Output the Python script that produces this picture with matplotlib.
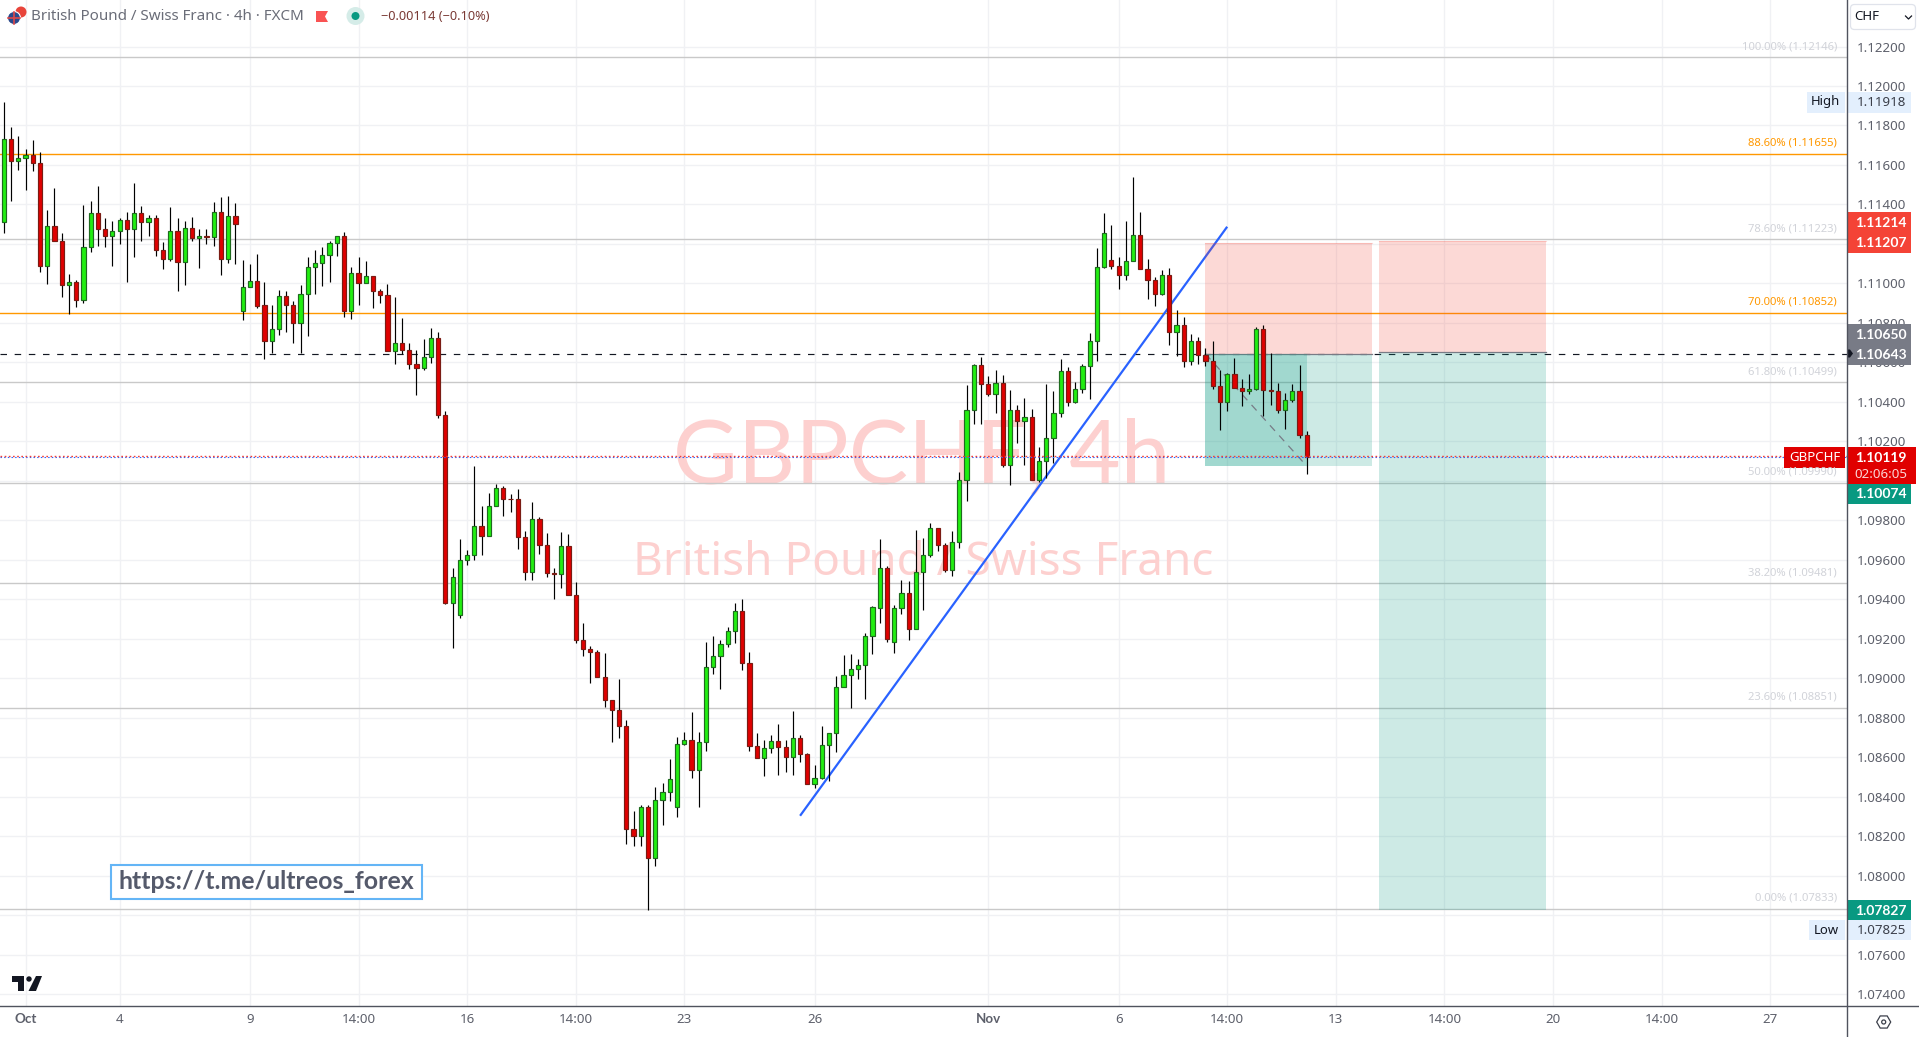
import numpy as np
import matplotlib
matplotlib.use("Agg")
import matplotlib.pyplot as plt
from matplotlib.patches import Rectangle, Circle, Polygon, RegularPolygon, FancyBboxPatch

plt.rcParams['font.family'] = ['Noto Sans', 'DejaVu Sans']

# GBPCHF 4h candles, prices in points (1e-5)
opens = [
    111309,111730,111619,111634,111649,111608,111087,111289,111213,110990,
    111005,110914,111183,111355,111274,111239,111264,111320,111274,111355,
    111309,111330,111168,111122,111264,111107,111279,111228,111239,111233,
    111360,111122,111340,110859,110980,111011,110889,110706,110767,110935,
    110889,110798,110945,111081,111102,111142,111203,111239,110859,111051,
    111000,111036,110960,110940,110656,110696,110660,110594,110569,110625,
    110721,110334,109383,109318,109601,109622,109769,109718,109870,109961,
    109910,109910,109713,109540,109804,109677,109535,109530,109672,109419,
    109192,109146,109131,109004,108888,108837,108756,108234,108199,108346,
    108087,108381,108422,108346,108665,108685,108533,108675,109055,109111,
    109172,109238,109339,109075,108655,108594,108645,108680,108650,108599,
    108695,108614,108462,108493,108660,108721,108954,109015,109045,109065,
    109212,109358,109556,109181,109358,109429,109247,109536,109622,109759,
    109673,109546,109688,110002,110357,110585,110488,110438,110493,110078,
    110357,110301,110321,110002,110098,110215,110341,110554,110397,110463,
    110580,110706,111081,111117,111086,111041,111112,111243,111071,111015,
    110944,111041,110752,110787,110605,110706,110635,110605,110478,110397,
    110539,110468,110453,110463,110767,110458,110453,110357,110407,110453,110230]
highs = [
    111918,111791,111745,111679,111725,111664,111370,111482,111254,111046,
    111016,111396,111416,111492,111330,111315,111330,111360,111507,111391,
    111345,111345,111208,111385,111330,111315,111335,111274,111274,111411,
    111436,111441,111406,111117,111097,111147,111005,110889,110965,110960,
    110909,110990,111132,111168,111183,111213,111239,111259,111081,111132,
    111112,111036,110970,110995,110929,110823,110696,110665,110716,110772,
    110752,110356,109556,109703,109647,110073,109870,109936,109986,109976,
    109931,109956,109748,109890,109819,109733,109556,109738,109728,109485,
    109278,109162,109141,109126,108888,108994,108787,108326,108356,108356,
    108447,108467,108589,108700,108726,108827,108726,109182,109212,109192,
    109258,109379,109400,109131,108721,108685,108711,108766,108685,108832,
    108711,108619,108559,108756,108721,109010,109116,109121,109096,109227,
    109364,109703,109566,109369,109495,109490,109749,109708,109784,109759,
    109683,109744,110042,110483,110590,110625,110529,110559,110534,110458,
    110382,110417,110362,110169,110488,110453,110615,110575,110498,110590,
    110747,111177,111355,111294,111132,111314,111537,111360,111122,111030,
    111066,111076,110863,110828,110742,110726,110671,110706,110559,110544,
    110620,110514,110539,110777,110787,110645,110493,110443,110488,110585,110250]
lows = [
    111257,111419,111576,111475,111571,111060,110999,111213,110933,110847,
    110882,110902,111161,111191,111186,111090,111201,111009,111136,111217,
    111242,111141,111075,111115,110963,110994,111217,111080,111201,111191,
    111044,111105,111100,110816,110980,110877,110619,110646,110740,110755,
    110700,110646,110735,110948,110989,111009,111141,110831,110821,110892,
    111000,110877,110902,110656,110593,110641,110567,110436,110559,110598,
    110319,109377,109154,109306,109574,109600,109625,109718,109870,109823,
    109843,109655,109498,109498,109630,109513,109402,109458,109419,109180,
    109114,108977,109004,108854,108679,108699,108162,108152,108152,107825,
    108050,108258,108380,108298,108660,108496,108349,108633,109023,108944,
    109156,109177,109043,108630,108594,108506,108619,108511,108527,108511,
    108574,108462,108445,108488,108478,108628,108954,108851,108998,108893,
    109124,109281,109181,109130,109326,109191,109247,109343,109612,109642,
    109536,109516,109662,109896,110286,110286,110428,110345,110068,109977,
    110193,110078,110002,109992,110012,110088,110321,110377,110392,110443,
    110412,110607,111076,111071,110973,111015,111112,111071,110922,110887,
    110939,110686,110630,110574,110585,110590,110580,110463,110255,110351,
    110468,110380,110438,110458,110326,110385,110341,110260,110397,110215,110032]
closes = [
    111730,111619,111634,111649,111608,111087,111289,111213,110990,111005,
    110914,111183,111355,111274,111239,111264,111320,111274,111355,111309,
    111330,111168,111122,111264,111107,111279,111228,111239,111233,111360,
    111122,111340,111299,110980,111011,110887,110706,110767,110935,110889,
    110798,110945,111081,111102,111142,111203,111239,110859,111051,111000,
    111036,110960,110940,110656,110696,110661,110594,110569,110625,110721,
    110334,109383,109515,109601,109622,109769,109718,109870,109961,109910,
    109907,109713,109540,109804,109677,109535,109530,109672,109419,109191,
    109146,109131,109004,108888,108837,108756,108234,108199,108346,108087,
    108381,108422,108488,108665,108685,108533,108675,109055,109111,109172,
    109238,109339,109075,108655,108594,108645,108680,108650,108599,108695,
    108614,108462,108493,108660,108721,108954,109015,109045,109065,109212,
    109359,109556,109201,109358,109429,109247,109536,109622,109759,109673,
    109546,109688,110002,110357,110585,110488,110438,110493,110078,110357,
    110301,110321,110002,110098,110215,110341,110554,110397,110463,110580,
    110706,111081,111253,111086,111041,111112,111243,111071,111015,110944,
    111041,110752,110787,110605,110706,110635,110605,110478,110397,110539,
    110468,110453,110463,110767,110458,110453,110357,110407,110453,110230,110119]

price_ticks = [1.074 + 0.002 * k for k in range(25)]
# these tick labels sit fully behind the price tags
hidden_ticks = ['1.07800', '1.10000', '1.11200']
time_tick_bars = [3, 16, 34, 49, 64, 79, 94, 112, 136, 154, 169, 184, 199, 214, 229, 244]
time_tick_labels = ['Oct', '4', '9', '14:00', '16', '14:00', '23', '26', 'Nov', '6', '14:00', '13', '14:00', '20', '14:00', '27']

fib_prices = [1.12146, 1.11655, 1.11223, 1.10852, 1.10499, 1.09990, 1.09481, 1.08851, 1.07833]
fib_labels = ['100.00%', '88.60%', '78.60%', '70.00%', '61.80%', '50.00%', '38.20%', '23.60%', '0.00%']
fib_orange = [False, True, False, True, False, False, False, False, False]

trend_bars = [110, 169]
trend_prices = [1.08303, 1.11287]

pos_bars = [(166, 189), (190, 213)]
pos_entry = [1.10643, 1.10650]
pos_stop = [1.11207, 1.11214]
pos_target = [1.10074, 1.07827]
last_bar = 180
last_price = 1.10119

# pixel layout of the screenshot
W, H = 1919, 1037
AX_R, AX_B = 1846.5, 1005.5
BAR_X0, BAR_STEP = 3.8, 7.239
Y_REF, PX_PER_2 = 46.5, 39.48
BOLD = ['Lato', 'DejaVu Sans']


def py(price):
    return Y_REF + (1.122 - price) / 0.002 * PX_PER_2


def price_at(y):
    return 1.122 - (y - Y_REF) * 0.002 / PX_PER_2


fig = plt.figure(figsize=(W / 100, H / 100), dpi=100, facecolor='white')
ax = fig.add_axes([0, 1 - AX_B / H, AX_R / W, AX_B / H])
ax.set_xlim(-BAR_X0 / BAR_STEP, (AX_R - BAR_X0) / BAR_STEP)
ax.set_ylim(price_at(AX_B), price_at(0))
for s in ax.spines.values():
    s.set_visible(False)

ax.yaxis.tick_right()
ax.set_yticks(price_ticks)
tick_text = ['%.5f' % p for p in price_ticks]
ax.set_yticklabels(['' if t in hidden_ticks else t for t in tick_text], color='#5d606b', fontsize=9.6)
ax.set_xticks(time_tick_bars)
ax.set_xticklabels(time_tick_labels, color='#5d606b', fontsize=9.6)
for lab in ax.get_xticklabels():
    if lab.get_text() in ('Oct', 'Nov'):
        lab.set_fontweight('bold')
        lab.set_family(BOLD)
ax.tick_params(axis='y', length=0, pad=7.4)
ax.tick_params(axis='x', length=0, pad=5.5)
ax.grid(True, color='#f0f1f4', lw=1.0)
ax.set_axisbelow(True)

# watermark
ax.text(0.499, 1 - 459 / AX_B, 'GBPCHF, 4h', transform=ax.transAxes, ha='center', va='center',
        fontsize=64, color='#fdd0cf', zorder=1, family=['Lato', 'DejaVu Sans'])
ax.text(0.4997, 1 - 563 / AX_B, 'British Pound / Swiss Franc', transform=ax.transAxes, ha='center', va='center',
        fontsize=33, color='#fdd0cf', zorder=1)

# fib levels
for p, orange in zip(fib_prices, fib_orange):
    ax.axhline(p, color='#ff9800' if orange else '#c9c9c9', lw=1.0, zorder=2)

ax.axhline(1.10643, color='#131722', lw=0.85, ls=(0, (5.5, 6.5)), zorder=3)

ax.plot(trend_bars, trend_prices, color='#2962ff', lw=1.6, zorder=3, solid_capstyle='butt')

# long/short position boxes
for (b0, b1), entry, stop, target in zip(pos_bars, pos_entry, pos_stop, pos_target):
    ax.add_patch(Rectangle((b0, entry), b1 - b0, stop - entry, fc='#f44336', alpha=0.2, lw=0, zorder=4))
    ax.add_patch(Rectangle((b0, target), b1 - b0, entry - target, fc='#089981', alpha=0.2, lw=0, zorder=4))
    ax.plot([b0, b1], [stop, stop], color='#f44336', alpha=0.2, lw=0.8, zorder=4)
    ax.plot([b0, b1], [entry, entry], color='#787b86', lw=0.9, zorder=4)
b0 = pos_bars[0][0]
ax.add_patch(Rectangle((b0, pos_target[0]), last_bar - b0, pos_entry[0] - pos_target[0],
                       fc='#089981', alpha=0.22, lw=0, zorder=4))
ax.plot([b0, last_bar], [pos_entry[0], pos_target[0]], color='#787b86', lw=0.9, ls=(0, (6, 5)), zorder=4)

# candles
o = np.array(opens) / 1e5
h = np.array(highs) / 1e5
l = np.array(lows) / 1e5
c = np.array(closes) / 1e5
bars = np.arange(len(o))
up = c >= o
ax.vlines(bars, l, h, color='#000000', lw=0.85, zorder=5)
ax.bar(bars[up], (c - o)[up], bottom=o[up], width=4.2 / BAR_STEP, color='#22ee11',
       edgecolor='#1f6b1f', lw=0.85, zorder=6)
ax.bar(bars[~up], (o - c)[~up], bottom=c[~up], width=4.2 / BAR_STEP, color='#e00000',
       edgecolor='#7a1c14', lw=0.85, zorder=6)

ax.axhline(last_price, color='#2962ff', lw=0.8, ls=(0, (1.3, 2)), zorder=7)
ax.axhline(last_price + 0.00007, color='#f0403a', lw=1.0, ls=(0, (1.2, 1.8)), zorder=7)

# overlay in screen pixels for labels and icons
ov = fig.add_axes([0, 0, 1, 1], zorder=5)
ov.set_xlim(0, W)
ov.set_ylim(H, 0)
ov.axis('off')

ov.plot([AX_R, AX_R], [0, H], color='#50535e', lw=1.0)
ov.plot([0, W], [AX_B, AX_B], color='#50535e', lw=1.0)

for p, name, orange in zip(fib_prices, fib_labels, fib_orange):
    ov.text(1837, py(p) - 10.6, '%s (%.5f)' % (name, p), ha='right', va='center', fontsize=8.1,
            color='#ff9800' if orange else '#d1d3d9')

# header
ov.add_patch(Circle((21, 12), 5.5, fc='#e8443a', lw=0))
ov.add_patch(Circle((14, 18), 6.5, fc='#2b4a8c', ec='white', lw=0.8))
ov.plot([8, 20], [18, 18], color='#e04848', lw=1.2)
ov.plot([14, 14], [12, 24], color='#e04848', lw=1.2)
ov.text(31, 16, 'British Pound / Swiss Franc · 4h · FXCM', ha='left', va='center', fontsize=10.9, color='#6a6d78')
ov.add_patch(Polygon([(316, 11), (328, 11), (325, 16.5), (328, 22), (316, 22)], fc='#f95353', lw=0))
ov.add_patch(Circle((355.5, 16), 9, fc='#d5ece8', lw=0))
ov.add_patch(Circle((355.5, 16), 4, fc='#089981', lw=0))
ov.text(381, 16, '\u22120.00114 (\u22120.10%)', ha='left', va='center', fontsize=9.2, color='#7a3a35')

# currency button
ov.add_patch(FancyBboxPatch((1853, 7), 60, 20, boxstyle='round,pad=2.5,rounding_size=4', fc='white', ec='#e0e3eb', lw=0.9))
ov.text(1854, 17, 'CHF', ha='left', va='center', fontsize=9.6, color='#131722')
ov.plot([1905.5, 1908.5, 1911.5], [16, 19, 16], color='#131722', lw=0.9)


def axis_box(y0, y1, color, x0=1846.5, x1=1911):
    ov.add_patch(Rectangle((x0, y0), x1 - x0, y1 - y0, fc=color, lw=0))


def axis_text(y, text, color='white', bold=True):
    if bold:
        ov.text(1881, y, text, ha='center', va='center', fontsize=10.0, color=color,
                fontweight='bold', family=BOLD)
    else:
        ov.text(1881, y, text, ha='center', va='center', fontsize=9.6, color=color)


# high / low tags
axis_box(92, 113, '#e3effd', 1807, 1845)
axis_box(92, 113, '#e3effd')
ov.text(1811, 102, 'High', ha='left', va='center', fontsize=9.4, color='#131722')
axis_text(103, '1.11918', '#3b3f4a', False)
axis_box(919.5, 940, '#e3effd', 1809, 1845)
axis_box(919.5, 940, '#e3effd')
ov.text(1814, 930, 'Low', ha='left', va='center', fontsize=9.4, color='#131722')
axis_text(930, '1.07825', '#3b3f4a', False)

axis_box(212, 253, '#f44336')
axis_text(223.3, '1.11214')
axis_text(243, '1.11207')
axis_box(324, 364.5, '#787b86')
axis_text(335, '1.10650')
axis_text(354.7, '1.10643')
ov.add_patch(Polygon([(1847, 349.5), (1850, 349.5), (1853, 353.5), (1850, 357.5), (1847, 357.5)], fc='#131722', lw=0))

axis_box(484, 504, '#089981')
axis_text(494, '1.10074')
axis_box(900, 919.5, '#089981')
axis_text(910.7, '1.07827')

axis_box(446.7, 484, '#e00000', 1846.5, 1916)
axis_text(458, '1.10119')
axis_text(474.3, '02:06:05', '#fbd5d5', False)
ov.add_patch(Rectangle((1784, 446.7), 61, 21, fc='#e00000', lw=0))
ov.text(1814.5, 457.5, 'GBPCHF', ha='center', va='center', fontsize=9.6, color='white')

# telegram note
ov.add_patch(Rectangle((110.5, 865), 311, 34, fc='white', ec='#64b5f6', lw=1.5))
ov.text(266, 881.5, 'https://t.me/ultreos_forex', ha='center', va='center', fontsize=17.9,
        fontweight='bold', color='#555a6b', family=BOLD)

# tradingview logo
ov.add_patch(Polygon([(12, 976), (24, 976), (24, 991), (18, 991), (18, 981.5), (12, 981.5)], fc='#131722', lw=0))
ov.add_patch(Circle((29, 979), 2.7, fc='#131722', lw=0))
ov.add_patch(Polygon([(36, 976), (42, 976), (36, 991), (28.5, 991)], fc='#131722', lw=0))

# settings icon
ov.add_patch(RegularPolygon((1883.7, 1022), 6, radius=7, orientation=np.pi / 2, fc='white', ec='#3b3f4a', lw=0.9))
ov.add_patch(Circle((1883.7, 1022), 2, fc='white', ec='#3b3f4a', lw=0.9))

fig.savefig('out.png', dpi=100)
